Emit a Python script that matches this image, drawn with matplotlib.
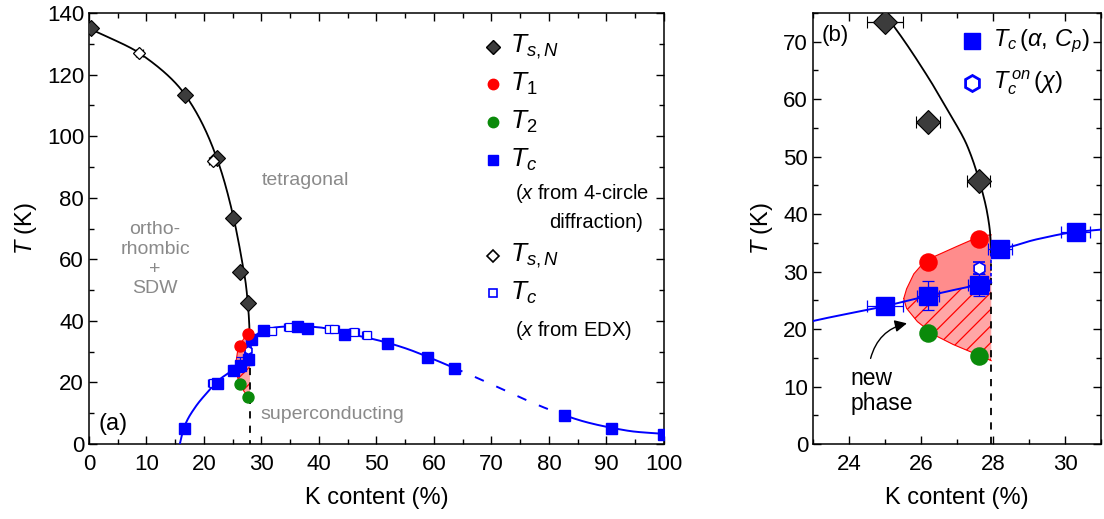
import numpy as np
import matplotlib
matplotlib.use("Agg")
import matplotlib.pyplot as plt
from matplotlib.patches import Polygon
from matplotlib.ticker import MultipleLocator

plt.rcParams['font.family'] = ['Liberation Sans', 'DejaVu Sans']
plt.rcParams['mathtext.fontset'] = 'custom'
plt.rcParams['mathtext.rm'] = 'Liberation Sans'
plt.rcParams['mathtext.it'] = 'Liberation Sans:italic'
plt.rcParams['hatch.linewidth'] = 0.9

# --- data ---
# structural / magnetic transition (filled diamonds, 4-circle)
ts_x = [0.3, 16.7, 22.3, 25.0, 26.2, 27.6]
ts_T = [135, 113.5, 93.0, 73.5, 56.0, 45.7]
ts_xerr = [0, 0, 0, 0.5, 0.33, 0.32]
# open diamonds (EDX)
ts_edx_x = [8.75, 21.5]
ts_edx_T = [127.0, 92.0]
# T1, T2
t1_x = [26.2, 27.6]
t1_T = [31.7, 35.7]
t2_x = [26.2, 27.6]
t2_T = [19.4, 15.3]
# Tc filled squares
tc_x = [16.5, 22.3, 25.0, 26.2, 27.6, 28.2, 30.3, 36.1, 38.0, 44.4, 51.9, 58.8, 63.4, 82.6, 90.8, 99.9]
tc_T = [5.2, 19.9, 24.0, 25.8, 27.7, 34.0, 36.9, 38.2, 37.8, 35.6, 32.9, 28.3, 24.6, 9.4, 5.3, 3.1]
tc_xerr = [0, 0, 0.5, 0.3, 0.3, 0.33, 0.4, 0, 0, 0, 0, 0, 0, 0, 0, 0]
tc_yerr = [0, 0, 0, 2.5, 1.9, 0, 0, 0, 0, 0, 0, 0, 1.2, 0, 0, 0]
# Tc open squares (EDX)
tc_edx_x = [21.5, 25.3, 31.8, 34.8, 41.8, 42.6, 46.1, 48.3]
tc_edx_T = [19.8, 24.5, 36.6, 38.1, 37.4, 37.5, 36.4, 35.3]
# Tc onset from susceptibility
tcon_x = [27.6]
tcon_T = [30.6]

# guide lines (control points)
line_s_T = [34.0, 36.7, 40.2, 44.9, 51.8, 58.2, 64.0, 74.7, 92.5, 113.5, 127.0, 135.0]
line_s_x = [27.95, 27.92, 27.84, 27.66, 27.29, 26.73, 26.18, 25.0, 22.3, 16.7, 8.75, 0.0]
line_lo_x = [15.8, 16.5, 18.5, 20.5, 22.3, 23.0, 25.0, 26.2, 27.6, 27.95]
line_lo_T = [0.0, 5.2, 12.0, 16.6, 20.3, 21.4, 24.0, 25.8, 27.7, 28.1]
line_hi_x = [27.95, 28.2, 29.2, 30.3, 33.0, 36.0, 40.0, 44.4, 48.0, 51.9, 55.5, 58.8,
             63.4, 70.0, 76.0, 82.6, 86.5, 90.8, 95.0, 100.0]
line_hi_T = [33.9, 34.0, 35.6, 36.9, 38.0, 38.3, 37.9, 36.1, 34.7, 32.9, 30.8, 28.4,
             24.8, 19.4, 14.3, 9.4, 7.1, 5.3, 4.0, 3.3]
# "new phase" region outline
reg_x = [25.52, 25.6, 25.8, 26.05, 26.36, 27.0, 27.66, 27.95, 27.95,
         27.47, 26.9, 26.36, 25.9, 25.6, 25.52]
reg_T = [25.3, 27.0, 29.6, 31.4, 32.6, 34.4, 36.2, 36.4, 14.5,
         15.8, 17.3, 19.0, 21.3, 23.6, 25.3]
x_c = 27.95


def pchip(xk, yk, xs):
    xk = np.asarray(xk, float)
    yk = np.asarray(yk, float)
    h = np.diff(xk)
    d = np.diff(yk) / h
    m = np.zeros_like(xk)
    m[0], m[-1] = d[0], d[-1]
    for k in range(1, len(xk) - 1):
        if d[k - 1] * d[k] > 0:
            w1 = 2 * h[k] + h[k - 1]
            w2 = h[k] + 2 * h[k - 1]
            m[k] = (w1 + w2) / (w1 / d[k - 1] + w2 / d[k])
    i = np.clip(np.searchsorted(xk, xs) - 1, 0, len(xk) - 2)
    t = (xs - xk[i]) / h[i]
    h00 = 2 * t**3 - 3 * t**2 + 1
    h10 = t**3 - 2 * t**2 + t
    h01 = -2 * t**3 + 3 * t**2
    h11 = t**3 - t**2
    return h00 * yk[i] + h10 * h[i] * m[i] + h01 * yk[i + 1] + h11 * h[i] * m[i + 1]


blue = '#0000ff'
salmon = '#ff8c8c'
gray = '#8a8a8a'

fig = plt.figure(figsize=(11.04, 5.19), dpi=100)
ax1 = fig.add_axes([0.0806, 0.1445, 0.5208, 0.8304])
ax2 = fig.add_axes([0.7364, 0.1445, 0.2609, 0.8304])


def draw(ax, big):
    ms = 1.12 if big else 0.72
    # region
    reg = np.column_stack([reg_x, reg_T])
    ax.add_patch(Polygon(reg, closed=True, facecolor=salmon, edgecolor='none', zorder=1))
    xs = np.linspace(23, x_c, 100)
    below = np.vstack([np.column_stack([xs, pchip(line_lo_x, line_lo_T, xs)]),
                       [[x_c, -1], [23, -1]]])
    clip = Polygon(below, closed=True, transform=ax.transData, facecolor='none', edgecolor='none')
    ax.add_patch(clip)
    hp = Polygon(reg, closed=True, facecolor='#ffa6a6', edgecolor='red', hatch='//', lw=0, zorder=1.5)
    ax.add_patch(hp)
    hp.set_clip_path(clip)
    ax.plot(reg_x[:8], reg_T[:8], color='red', lw=0.8, zorder=2)
    ax.plot(reg_x[8:], reg_T[8:], color='red', lw=0.8, zorder=2)

    # black guide line
    Ts = np.linspace(line_s_T[0], line_s_T[-1], 400)
    ax.plot(pchip(line_s_T, line_s_x, Ts), Ts, color='k', lw=1.3, zorder=3)
    ax.plot([x_c, x_c], [line_s_T[0], 0], color='k', lw=1.3, ls=(0, (4, 4)), zorder=3)

    # blue guide lines
    xs = np.linspace(line_lo_x[0], line_lo_x[-1], 200)
    ax.plot(xs, pchip(line_lo_x, line_lo_T, xs), color=blue, lw=1.4, zorder=3)
    ax.plot([x_c, x_c], [line_lo_T[-1], line_hi_T[0]], color=blue, lw=1.2, ls=(0, (2, 2)), zorder=3)
    for a, b, ls in [(27.95, 63.4, '-'), (63.4, 82.6, (0, (5, 7))), (82.6, 100, '-')]:
        xs = np.linspace(a, b, 200)
        ax.plot(xs, pchip(line_hi_x, line_hi_T, xs), color=blue, lw=1.4, ls=ls, zorder=3)

    # markers
    eb = dict(capsize=3 * ms + 1, elinewidth=0.9, capthick=0.9, linestyle='none', zorder=5)
    ax.errorbar(ts_x, ts_T, xerr=ts_xerr, fmt='D', ms=11 * ms, mfc='#3c3c3c', mec='k',
                mew=0.8, ecolor='k', **eb)
    if not big:
        ax.errorbar(ts_edx_x, ts_edx_T, xerr=0.6, fmt='D', ms=6, mfc='white', mec='k',
                    mew=0.9, ecolor='k', **eb)
        ax.errorbar(tc_edx_x, tc_edx_T, xerr=0.8, fmt='s', ms=6, mfc='white', mec=blue,
                    mew=0.9, ecolor=blue, **eb)
    ax.plot(t1_x, t1_T, 'o', ms=11 * ms, color='red', zorder=6)
    ax.plot(t2_x, t2_T, 'o', ms=11 * ms, color='#0a8a0a', zorder=6)
    ax.errorbar(tcon_x, tcon_T, yerr=1.0, fmt='h', ms=8 * ms, mfc='white', mec=blue,
                mew=1.2, ecolor=blue, **eb)
    ax.errorbar(tc_x, tc_T, xerr=tc_xerr, yerr=tc_yerr, fmt='s', ms=11 * ms, color=blue,
                ecolor=blue, **eb)

    ax.tick_params(which='both', direction='in', top=True, right=True, labelsize=16)
    ax.tick_params(which='major', length=6, width=1)
    ax.tick_params(which='minor', length=3.5, width=1)
    ax.tick_params(axis='x', pad=7)
    for s in ax.spines.values():
        s.set_linewidth(1.1)
    ax.set_xlabel('K content (%)', fontsize=17, labelpad=9)
    ax.set_ylabel('$T$ (K)', fontsize=17, labelpad=6)


draw(ax1, False)
ax1.set_xlim(0, 100)
ax1.set_ylim(0, 140)
ax1.xaxis.set_major_locator(MultipleLocator(10))
ax1.xaxis.set_minor_locator(MultipleLocator(5))
ax1.yaxis.set_major_locator(MultipleLocator(20))
ax1.yaxis.set_minor_locator(MultipleLocator(10))

ax1.text(37.6, 85.5, 'tetragonal', color=gray, fontsize=14, ha='center', va='center')
ax1.text(11.5, 60, 'ortho-\nrhombic\n+\nSDW', color=gray, fontsize=14, ha='center',
         va='center', linespacing=1.2)
ax1.text(42.3, 9.7, 'superconducting', color=gray, fontsize=14, ha='center', va='center')
ax1.text(1.6, 6.5, '(a)', fontsize=17, ha='left', va='center')

# legend of panel (a)
leg_y = [0.921, 0.835, 0.747, 0.659, 0.436, 0.350]
leg_lab = ['$T_{s,N}$', '$T_1$', '$T_2$', '$T_c$', '$T_{s,N}$', '$T_c$']
leg_sty = [dict(marker='D', ms=7, mfc='#3c3c3c', mec='k'),
           dict(marker='o', ms=7.5, mfc='red', mec='red'),
           dict(marker='o', ms=7.5, mfc='#0a8a0a', mec='#0a8a0a'),
           dict(marker='s', ms=6.5, mfc=blue, mec=blue),
           dict(marker='D', ms=6, mfc='white', mec='k', mew=1.2),
           dict(marker='s', ms=5.5, mfc='white', mec=blue, mew=1.2)]
for y, lab, sty in zip(leg_y, leg_lab, leg_sty):
    ax1.plot([0.7026], [y], transform=ax1.transAxes, ls='none', clip_on=False, **sty)
    ax1.text(0.732, y, lab, transform=ax1.transAxes, fontsize=19, va='center', ha='left')
ax1.text(0.741, 0.582, '($x$ from 4-circle', transform=ax1.transAxes, fontsize=14.5, va='center')
ax1.text(0.80, 0.513, 'diffraction)', transform=ax1.transAxes, fontsize=14.5, va='center')
ax1.text(0.741, 0.2645, '($x$ from EDX)', transform=ax1.transAxes, fontsize=14.5, va='center')

draw(ax2, True)
ax2.set_xlim(23, 31)
ax2.set_ylim(0, 75)
ax2.xaxis.set_major_locator(MultipleLocator(2))
ax2.xaxis.set_minor_locator(MultipleLocator(1))
ax2.yaxis.set_major_locator(MultipleLocator(10))
ax2.yaxis.set_minor_locator(MultipleLocator(5))
ax2.text(0.031, 0.949, '(b)', transform=ax2.transAxes, fontsize=16, va='center')
ax2.plot([0.552], [0.935], transform=ax2.transAxes, marker='s', ms=11.5, color=blue, ls='none')
ax2.text(0.625, 0.935, r'$T_c\,(\alpha,\,C_p)$', transform=ax2.transAxes, fontsize=17, va='center')
ax2.plot([0.552], [0.838], transform=ax2.transAxes, marker='h', ms=11.5, mfc='white', mec=blue,
         mew=2, ls='none')
ax2.text(0.625, 0.838, r'$T_c^{\,on}\,(\chi)$', transform=ax2.transAxes, fontsize=17, va='center')
ax2.text(24.05, 9.2, 'new\nphase', fontsize=16.5, ha='left', va='center', linespacing=1.15)
ax2.annotate('', xy=(25.61, 21.0), xytext=(24.6, 14.9),
             arrowprops=dict(arrowstyle='-|>', connectionstyle='arc3,rad=-0.3', color='k',
                             lw=1, mutation_scale=18, shrinkA=0, shrinkB=0))

fig.savefig('out.png', dpi=100)
